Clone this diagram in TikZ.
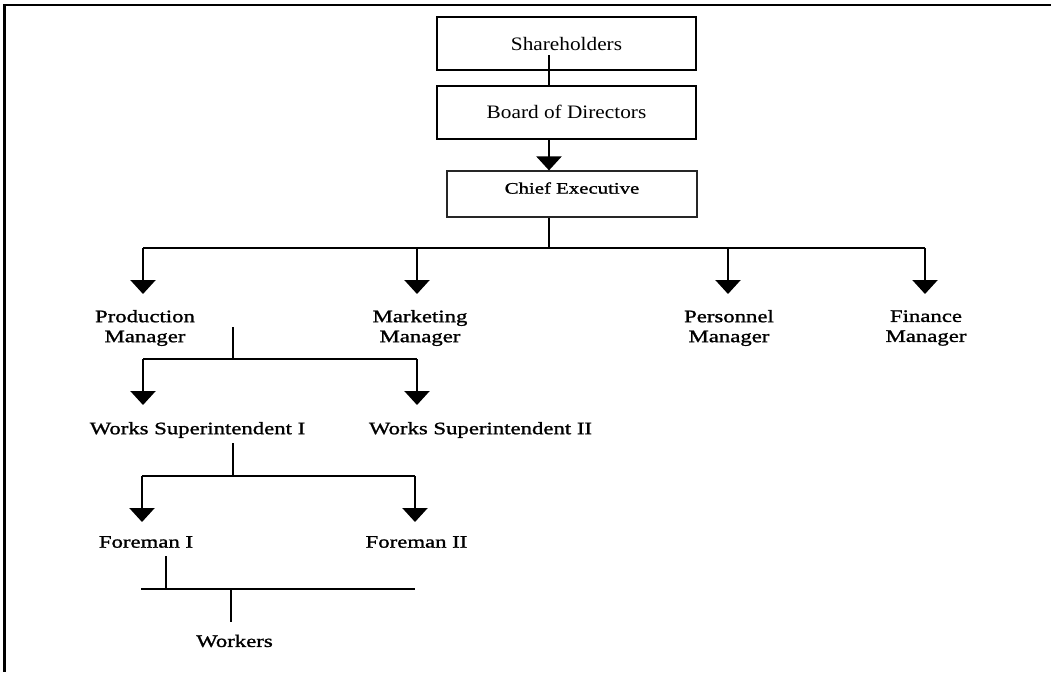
\documentclass[tikz,border=0pt]{standalone}
\usepackage{fontspec}
\setmainfont{Liberation Serif}
\newfontfamily\boxfont[FakeStretch=1.12]{Liberation Serif}
\newfontfamily\scanfont[FakeStretch=1.3,FakeBold=1.3]{Liberation Serif}
\usetikzlibrary{arrows.meta}
\begin{document}
\begin{tikzpicture}[x=1pt,y=-1pt,
  topbox/.style={draw,line width=2pt,minimum width=259pt,minimum height=53pt,inner sep=0pt,
    font=\boxfont\fontsize{19}{23}\selectfont},
  chiefbox/.style={draw=black!85,line width=1.2pt,minimum width=250pt,minimum height=46pt,inner sep=0pt,
    text depth=12pt,font=\scanfont\fontsize{16}{19}\selectfont},
  lbl/.style={align=center,inner sep=0pt,font=\scanfont\fontsize{17.5}{20}\selectfont},
  conn/.style={line width=2.3pt},
  arr/.style={conn,-{Triangle[width=25pt,length=14pt]}},
  frame/.style={line width=2.5pt}]
\useasboundingbox (0,0) rectangle (1051,672);
\draw[frame] (1051,5) -- (4.5,5) -- (4.5,672);

% boxes
\node[topbox] (sh) at (566.5,43.5) {Shareholders};
\node[topbox] (bd) at (566.5,112) {Board of Directors};
\node[chiefbox] (ce) at (572,194) {Chief Executive};

% labels
\node[lbl] (pm)  at (145,328) {Production\\Manager};
\node[lbl] (mm)  at (420,328) {Marketing\\Manager};
\node[lbl] (psm) at (729,328) {Personnel\\Manager};
\node[lbl] (fm)  at (926,328) {Finance\\Manager};
\node[lbl] (ws1) at (197.5,430) {Works Superintendent I};
\node[lbl] (ws2) at (480.5,430) {Works Superintendent II};
\node[lbl] (f1)  at (146,542) {Foreman I};
\node[lbl] (f2)  at (416.5,542) {Foreman II};
\node[lbl] (wk)  at (234.5,641) {Workers};

% coordinates
\coordinate (shl) at (549,55);
\coordinate (b0) at (549,248);
\coordinate (bP) at (143,248);
\coordinate (bM) at (417,248);
\coordinate (bS) at (728,248);
\coordinate (bF) at (925,248);
\coordinate (tP) at (143,294);
\coordinate (tM) at (417,294);
\coordinate (tS) at (728,294);
\coordinate (tF) at (925,294);

\coordinate (p0) at (233,327);
\coordinate (p1) at (233,359);
\coordinate (pL) at (143,359);
\coordinate (pR) at (417,359);
\coordinate (tW1) at (143,405);
\coordinate (tW2) at (417,405);

\coordinate (w0) at (233,443);
\coordinate (w1) at (233,476);
\coordinate (wL) at (142,476);
\coordinate (wR) at (415,476);
\coordinate (tF1) at (142,522);
\coordinate (tF2) at (415,522);

\coordinate (f0) at (166,556);
\coordinate (f1b) at (166,589);
\coordinate (gL) at (141,589);
\coordinate (gR) at (415,589);
\coordinate (g0) at (231,589);
\coordinate (g1) at (231,622);

% connectors
\draw[conn] (shl) -- (bd.north -| shl);
\draw[arr] (bd.south -| shl) -- (ce.north -| shl);
\draw[conn] (ce.south -| shl) -- (b0);
\draw[conn] (bP) -- (bF);
\draw[arr] (bP) -- (tP);
\draw[arr] (bM) -- (tM);
\draw[arr] (bS) -- (tS);
\draw[arr] (bF) -- (tF);

\draw[conn] (p0) -- (p1);
\draw[conn] (pL) -- (pR);
\draw[arr] (pL) -- (tW1);
\draw[arr] (pR) -- (tW2);

\draw[conn] (w0) -- (w1);
\draw[conn] (wL) -- (wR);
\draw[arr] (wL) -- (tF1);
\draw[arr] (wR) -- (tF2);

\draw[conn] (f0) -- (f1b);
\draw[conn] (gL) -- (gR);
\draw[conn] (g0) -- (g1);
\end{tikzpicture}
\end{document}
